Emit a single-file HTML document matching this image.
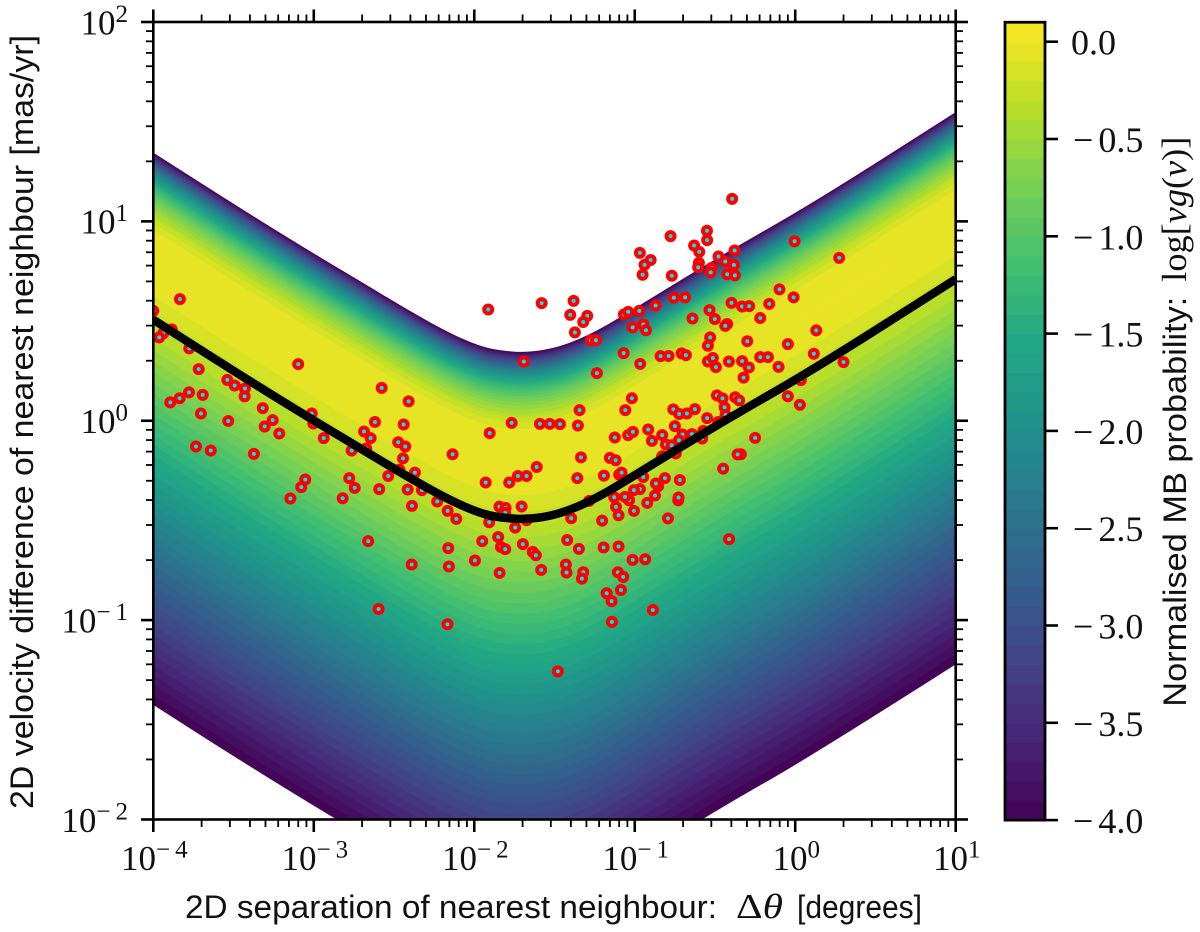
<!DOCTYPE html>
<html lang="en">
<head>
<meta charset="utf-8">
<title>Nearest neighbour velocity versus separation</title>
<style>
html,body{margin:0;padding:0;background:#fff;}
svg{display:block;}
.sans{font-family:"Liberation Sans",sans-serif;font-size:32px;fill:#111;}
.math{font-family:"Liberation Serif",serif;font-size:35px;fill:#111;}
</style>
</head>
<body>
<svg id="chart" xmlns="http://www.w3.org/2000/svg" width="1200" height="932" viewBox="0 0 1200 932">
  <defs>
    <clipPath id="plot-clip"><rect x="153.3" y="22" width="802.4" height="797.5"></rect></clipPath>
  </defs>
  <rect x="0" y="0" width="1200" height="932" fill="#fff"></rect>
  <g id="contours" clip-path="url(#plot-clip)"></g>
  <g id="scatter" clip-path="url(#plot-clip)"></g>
  <g id="curve" clip-path="url(#plot-clip)"></g>
  <rect x="153.3" y="22" width="802.4" height="797.5" fill="none" stroke="#000" stroke-width="2.6"></rect>
  <g id="axis-ticks"></g>
  <g id="axis-labels"></g>
  <g id="colorbar"></g>

  <g>
    <text class="sans" x="185" y="918" textLength="532" lengthAdjust="spacingAndGlyphs">2D separation of nearest neighbour:</text>
    <text class="math" x="736" y="918" textLength="47" lengthAdjust="spacingAndGlyphs">Δ<tspan font-style="italic">θ</tspan></text>
    <text class="sans" x="797" y="918" textLength="125" lengthAdjust="spacingAndGlyphs">[degrees]</text>
  </g>
  <text class="sans" transform="translate(33,809) rotate(-90)" textLength="774" lengthAdjust="spacingAndGlyphs">2D velocity difference of nearest neighbour [mas/yr]</text>
  <g>
    <text class="sans" transform="translate(1186,706.7) rotate(-90)" textLength="410" lengthAdjust="spacingAndGlyphs">Normalised MB probability:</text>
    <text class="math" transform="translate(1186,281.7) rotate(-90)" textLength="145" lengthAdjust="spacingAndGlyphs">log[<tspan font-style="italic">vg</tspan>(<tspan font-style="italic">v</tspan>)]</text>
  </g>
</svg>
<script>
// ---- Data (all coordinates are log10 of the plotted quantity) ----
const curveLogSep = [-4.000,-3.510,-3.005,-2.669,-2.401,-2.152,-1.965,-1.840,-1.672,-1.466,-1.236,-0.968,-0.438,0.110,1.000];
const curveLogVel = [0.507,0.254,0.003,-0.158,-0.288,-0.399,-0.464,-0.486,-0.496,-0.469,-0.389,-0.258,0.003,0.254,0.710];

// Log-probability contour levels, and where each level sits (dex) above / below the distribution peak
const contourLevels = [-4.0,-3.9,-3.8,-3.7,-3.6,-3.5,-3.4,-3.3,-3.2,-3.1,-3.0,-2.9,-2.8,-2.7,-2.6,-2.5,-2.4,-2.3,-2.2,-2.1,-2.0,-1.9,-1.8,-1.7,-1.6,-1.5,-1.4,-1.3,-1.2,-1.1,-1.0,-0.9,-0.8,-0.7,-0.6,-0.5,-0.4,-0.3,-0.2,-0.1,0.0];
const levelUpperDex = [0.5528,0.5485,0.5441,0.5396,0.5350,0.5304,0.5256,0.5206,0.5155,0.5104,0.5050,0.4995,0.4939,0.4880,0.4821,0.4759,0.4695,0.4629,0.4560,0.4488,0.4416,0.4338,0.4258,0.4174,0.4086,0.3993,0.3898,0.3795,0.3686,0.3569,0.3446,0.3314,0.3168,0.3010,0.2833,0.2635,0.2407,0.2250,0.2000,0.1660,0];
const levelLowerDex = [-2.2171,-2.1671,-2.1171,-2.0671,-2.0171,-1.9671,-1.9171,-1.8671,-1.8171,-1.7671,-1.7171,-1.6670,-1.6170,-1.5670,-1.5169,-1.4669,-1.4168,-1.3667,-1.3166,-1.2665,-1.2163,-1.1661,-1.1159,-1.0656,-1.0151,-0.9646,-0.9139,-0.8631,-0.8120,-0.7606,-0.7090,-0.6565,-0.6038,-0.5498,-0.4948,-0.4385,-0.3790,-0.3167,-0.2475,-0.1660,0];
const peakAboveCurveDex = 0.285;

const pointLogSep = [-3.834,-4.000,-3.885,-3.938,-3.963,-3.776,-3.717,-3.539,-3.493,-3.429,-3.431,-3.097,-2.577,-2.409,-3.778,-3.836,-3.894,-3.692,-3.703,-3.533,-3.318,-3.256,-3.306,-3.215,-3.734,-3.642,-3.373,-3.013,-3.003,-2.938,-2.764,-2.673,-2.687,-2.646,-2.619,-2.440,-2.474,-2.430,-2.444,-2.467,-2.370,-2.536,-3.053,-3.078,-3.146,-2.820,-2.779,-2.745,-2.592,-2.415,-2.326,-2.388,-2.231,-2.166,-2.661,-2.390,-2.162,-2.158,-2.596,-2.167,
-1.913,-1.580,-1.381,-1.402,-1.296,-1.321,-1.373,-1.068,-1.041,-0.972,-1.013,-0.947,-0.930,-1.273,-1.242,-1.069,-0.966,-1.691,-1.236,-1.018,-1.059,-1.344,-1.767,-1.591,-1.529,-1.466,-1.354,-1.904,-1.124,-1.041,-1.011,-0.916,-0.893,-2.135,-1.335,-1.155,-1.119,-1.611,-1.728,-1.674,-1.782,-1.929,-1.358,-1.192,-1.097,-1.082,-0.947,-0.968,-1.005,-1.035,-1.061,-1.128,-0.922,-1.117,-1.005,-1.101,-1.284,-1.396,-1.203,-2.112,-1.843,-1.805,-1.807,-1.705,-1.674,-1.907,-1.745,-0.793,-0.729,-1.851,-1.950,-1.834,-1.807,-1.697,-1.636,-1.616,-1.996,-1.842,-1.583,-1.421,-1.348,-1.194,-1.101,-1.013,-0.935,-1.429,-1.425,-1.321,-1.329,-1.105,-1.072,-1.086,-1.175,-1.144,-0.887,-1.142,-1.479,
-0.393,-0.777,-0.550,-0.549,-0.630,-0.598,-0.901,-0.939,-0.968,-0.951,-0.769,-0.600,-0.605,-0.478,-0.436,-0.378,-0.382,-0.521,-0.527,-0.424,-0.376,-0.004,0.274,-0.098,-0.010,-0.756,-0.686,-0.870,-0.397,-0.331,-0.287,-0.162,-0.534,-0.501,-0.640,-0.218,-0.424,-0.436,-0.530,-0.544,-0.299,-0.046,0.131,0.116,0.301,-0.839,-0.789,-0.708,-0.681,-0.544,-0.513,-0.494,-0.413,-0.331,-0.289,-0.218,-0.170,-0.104,-0.322,
0.035,-0.046,0.029,-0.488,-0.453,-0.374,-0.349,-0.440,-0.434,-0.760,-0.723,-0.675,-0.625,-0.549,-0.480,-0.750,-0.829,-0.702,-0.644,-0.573,-0.580,-0.725,-0.806,-0.770,-0.744,-0.829,-0.250,-0.339,-0.359,-0.449,-0.812,-0.719,-0.854,-0.868,-0.874,-0.727,-0.412];
const pointLogVel = [0.610,0.551,0.458,0.438,0.418,0.363,0.259,0.205,0.177,0.162,0.122,0.284,0.165,0.097,0.142,0.113,0.092,0.130,0.036,-0.001,0.063,0.003,-0.029,-0.064,-0.129,-0.149,-0.166,0.036,-0.014,-0.087,-0.149,-0.139,-0.054,-0.087,-0.006,-0.019,-0.108,-0.129,-0.189,-0.245,-0.260,-0.277,-0.295,-0.333,-0.390,-0.389,-0.288,-0.337,-0.343,-0.345,-0.348,-0.427,-0.405,-0.452,-0.604,-0.721,-0.639,-0.731,-0.944,-1.021,
0.558,0.590,0.601,0.531,0.526,0.495,0.443,0.533,0.546,0.551,0.468,0.483,0.454,0.404,0.404,0.339,0.285,0.297,0.239,0.113,0.053,0.053,-0.011,-0.016,-0.016,-0.017,-0.024,-0.062,-0.084,-0.072,-0.056,-0.044,-0.101,-0.168,-0.184,-0.186,-0.198,-0.232,-0.277,-0.277,-0.310,-0.310,-0.288,-0.275,-0.270,-0.260,-0.282,-0.343,-0.348,-0.399,-0.382,-0.384,-0.412,-0.432,-0.452,-0.474,-0.402,-0.489,-0.501,-0.492,-0.431,-0.437,-0.462,-0.430,-0.499,-0.509,-0.536,-0.490,-0.399,-0.583,-0.604,-0.633,-0.644,-0.619,-0.658,-0.675,-0.701,-0.763,-0.748,-0.598,-0.643,-0.636,-0.631,-0.698,-0.695,-0.721,-0.761,-0.760,-0.792,-0.760,-0.783,-0.849,-0.865,-0.905,-0.949,-1.009,-1.257,
1.113,0.926,0.953,0.906,0.879,0.847,0.806,0.782,0.842,0.732,0.727,0.792,0.769,0.824,0.799,0.854,0.781,0.767,0.744,0.735,0.729,0.900,0.817,0.659,0.619,0.617,0.619,0.578,0.591,0.573,0.575,0.586,0.555,0.510,0.513,0.515,0.485,0.476,0.418,0.376,0.399,0.384,0.453,0.336,0.294,0.324,0.325,0.338,0.329,0.297,0.315,0.269,0.297,0.299,0.267,0.319,0.319,0.270,0.216,
0.204,0.123,0.080,0.127,0.112,0.118,0.102,0.067,0.029,0.057,0.034,0.036,0.058,0.013,-0.006,-0.027,-0.072,-0.069,-0.067,-0.051,-0.089,-0.098,-0.119,-0.123,-0.164,-0.178,-0.086,-0.168,-0.169,-0.240,-0.288,-0.297,-0.328,-0.315,-0.375,-0.385,-0.594];

const xTickExponents = [-4,-3,-2,-1,0,1];
const yTickExponents = [2,1,0,-1,-2];
const xTickLabels = ["−4","−3","−2","−1","0","1"];
const yTickLabels = ["2","1","0","−1","−2"];
const colorbarTicks = [0.0,-0.5,-1.0,-1.5,-2.0,-2.5,-3.0,-3.5,-4.0];
const colorbarTickLabels = ["0.0","−0.5","−1.0","−1.5","−2.0","−2.5","−3.0","−3.5","−4.0"];
const minorMultiples = [2,3,4,5,6,7,8,9];
const colorbarTop = 0.1;

// ---- Scales ----
const NS = 'http://www.w3.org/2000/svg';
const xScale = v => 153.3 + (v + 4) * 160.48;
const yScale = v => 22 + (2 - v) * 199.37;
const cbScale = v => 41.7 + (0 - v) * 194.6;

const viridisStops = ['#440154','#482475','#414487','#355f8d','#2a788e','#21918c','#22a884','#44bf70','#7ad151','#bddf26','#fde725'];
function viridis(t){
  t = Math.max(0, Math.min(1, t)) * 10;
  const i = Math.min(9, Math.floor(t)), f = t - i;
  const a = viridisStops[i], b = viridisStops[i + 1];
  let out = 'rgb(';
  for (let c = 0; c < 3; c++) {
    const p = parseInt(a.substr(1 + c * 2, 2), 16), q = parseInt(b.substr(1 + c * 2, 2), 16);
    out += Math.round(p + (q - p) * f) + (c < 2 ? ',' : ')');
  }
  return out;
}
const bandColor = level => viridis((level + 0.05 + 4) / 4.1);

// Rounds the corners of a read-off polyline: straight runs through segment midpoints, quadratic at vertices
function smoothPath(xs, ys, startCommand){
  const f = n => n.toFixed(2);
  let d = startCommand + f(xs[0]) + ' ' + f(ys[0]);
  for (let i = 1; i < xs.length - 1; i++) {
    const mx = (xs[i] + xs[i + 1]) / 2, my = (ys[i] + ys[i + 1]) / 2;
    d += 'Q' + f(xs[i]) + ' ' + f(ys[i]) + ' ' + f(mx) + ' ' + f(my);
  }
  const n = xs.length - 1;
  return d + 'L' + f(xs[n]) + ' ' + f(ys[n]);
}

function tick(parent, x1, y1, x2, y2, width){
  const l = document.createElementNS(NS, 'line');
  
  
  l.setAttribute('x1', x1); l.setAttribute('y1', y1);
  l.setAttribute('x2', x2); l.setAttribute('y2', y2);
  l.setAttribute('stroke', '#000'); l.setAttribute('stroke-width', width);
  parent.appendChild(l);
}

// ---- Contour bands, painted from the outermost level inwards ----
const contourGroup = document.getElementById('contours');
const curvePx = curveLogSep.map(xScale);
contourLevels.forEach((level, k) => {
  const upperY = curveLogVel.map(v => yScale(v + peakAboveCurveDex + levelUpperDex[k]));
  const lowerY = curveLogVel.map(v => yScale(v + peakAboveCurveDex + levelLowerDex[k]));
  const band = document.createElementNS(NS, 'path');
  
  
  band.setAttribute('d', smoothPath(curvePx, upperY, 'M') + smoothPath(curvePx.slice().reverse(), lowerY.slice().reverse(), 'L') + 'Z');
  band.setAttribute('fill', bandColor(level));
  contourGroup.appendChild(band);
});

// ---- Scatter points ----
const scatterGroup = document.getElementById('scatter');
pointLogSep.forEach((s, i) => {
  const dot = document.createElementNS(NS, 'circle');
  
  
  dot.setAttribute('cx', xScale(s).toFixed(2));
  dot.setAttribute('cy', yScale(pointLogVel[i]).toFixed(2));
  dot.setAttribute('r', '4');
  dot.setAttribute('fill', '#00e5f5');
  dot.setAttribute('stroke', '#ff0000');
  dot.setAttribute('stroke-width', '4');
  scatterGroup.appendChild(dot);
});

// ---- Black curve ----
const curvePath = document.createElementNS(NS, 'path');


curvePath.setAttribute('d', smoothPath(curvePx, curveLogVel.map(yScale), 'M'));
curvePath.setAttribute('fill', 'none');
curvePath.setAttribute('stroke', '#000');
curvePath.setAttribute('stroke-width', '8.5');
curvePath.setAttribute('stroke-linejoin', 'round');
document.getElementById('curve').appendChild(curvePath);

// ---- Axis ticks on all four sides ----
const tickGroup = document.getElementById('axis-ticks');
xTickExponents.forEach((e, i) => {
  const px = xScale(e);
  tick(tickGroup, px, 819.5, px, 832, 2.6);
  tick(tickGroup, px, 22, px, 9.5, 2.6);
  if (i < xTickExponents.length - 1) minorMultiples.forEach(m => {
    const mx = xScale(e + Math.log10(m));
    tick(tickGroup, mx, 819.5, mx, 827, 1.8);
    tick(tickGroup, mx, 22, mx, 14.5, 1.8);
  });
});
yTickExponents.forEach((e, i) => {
  const py = yScale(e);
  tick(tickGroup, 153.3, py, 141, py, 2.6);
  tick(tickGroup, 955.7, py, 968, py, 2.6);
  if (i < yTickExponents.length - 1) minorMultiples.forEach(m => {
    const my = yScale(e - 1 + Math.log10(m));
    tick(tickGroup, 153.3, my, 146, my, 1.8);
    tick(tickGroup, 955.7, my, 963, my, 1.8);
  });
});

// ---- Tick labels ----
const labelGroup = document.getElementById('axis-labels');
function powerLabel(exp, x, y, anchor, name){
  const t = document.createElementNS(NS, 'text');
  
  
  t.setAttribute('class', 'math');
  t.setAttribute('x', x); t.setAttribute('y', y);
  t.setAttribute('text-anchor', anchor);
  t.textContent = '10';
  if (exp[0] === '−') {
    const m = document.createElementNS(NS, 'tspan');
    m.setAttribute('font-size', '25');
    m.setAttribute('dy', '-12.5');
    m.setAttribute('letter-spacing', '5');
    m.textContent = '−';
    t.appendChild(m);
    const d = document.createElementNS(NS, 'tspan');
    d.setAttribute('font-size', '25');
    d.textContent = exp.slice(1);
    t.appendChild(d);
  } else {
    const d = document.createElementNS(NS, 'tspan');
    d.setAttribute('font-size', '25');
    d.setAttribute('dy', '-12.5');
    d.textContent = exp;
    t.appendChild(d);
  }
  labelGroup.appendChild(t);
}
xTickExponents.forEach((e, i) => powerLabel(xTickLabels[i], xScale(e) + 1, 870, 'middle', 'x-tick-label'));
yTickExponents.forEach((e, i) => powerLabel(yTickLabels[i], 128, yScale(e) + 12.3, 'end', 'y-tick-label'));

// ---- Colorbar ----
const cbGroup = document.getElementById('colorbar');
contourLevels.forEach((level, k) => {
  const top = k < contourLevels.length - 1 ? contourLevels[k + 1] : colorbarTop;
  const cell = document.createElementNS(NS, 'rect');
  
  
  cell.setAttribute('x', 1005);
  cell.setAttribute('width', 40);
  cell.setAttribute('y', cbScale(top).toFixed(2));
  cell.setAttribute('height', (cbScale(level) - cbScale(top) + 0.6).toFixed(2));
  cell.setAttribute('fill', bandColor(level));
  cbGroup.appendChild(cell);
});
const cbFrame = document.createElementNS(NS, 'rect');


cbFrame.setAttribute('x', 1005); cbFrame.setAttribute('y', cbScale(colorbarTop).toFixed(2));
cbFrame.setAttribute('width', 40); cbFrame.setAttribute('height', (cbScale(-4) - cbScale(colorbarTop)).toFixed(2));
cbFrame.setAttribute('fill', 'none'); cbFrame.setAttribute('stroke', '#000'); cbFrame.setAttribute('stroke-width', '2.8');
cbGroup.appendChild(cbFrame);
colorbarTicks.forEach((v, i) => {
  const py = cbScale(v);
  tick(cbGroup, 1045, py, 1058, py, 2.6);
  const label = colorbarTickLabels[i];
  const t = document.createElementNS(NS, 'text');
  
  
  t.setAttribute('class', 'math');
  t.setAttribute('style', 'font-size:36px');
  t.setAttribute('y', (py + 13).toFixed(1));
  t.setAttribute('x', label[0] === '−' ? 1073 : 1071);
  if (label[0] === '−') {
    const m = document.createElementNS(NS, 'tspan');
    m.setAttribute('letter-spacing', '5');
    m.textContent = '−';
    t.appendChild(m);
    t.appendChild(document.createTextNode(label.slice(1)));
  } else {
    t.textContent = label;
  }
  cbGroup.appendChild(t);
});
</script>
</body>
</html>
